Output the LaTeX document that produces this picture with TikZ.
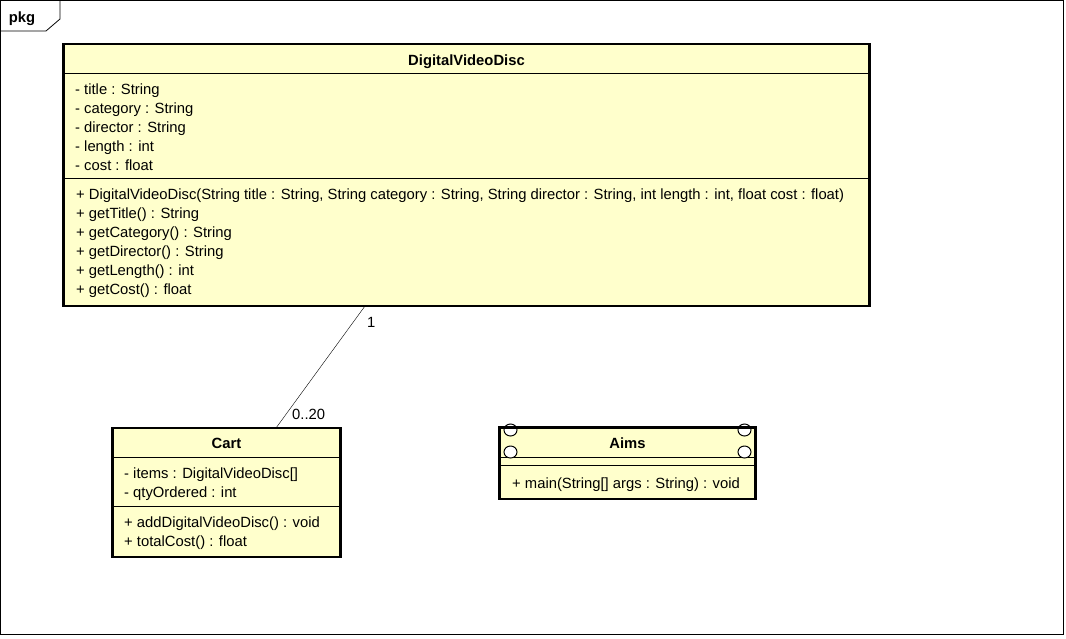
\documentclass[tikz,border=0pt]{standalone}
\usepackage{fontspec}
\setmainfont{Liberation Sans}
\usepackage{xcolor}
\definecolor{umlfill}{RGB}{255,255,204}
\tikzset{
  classbox/.style={draw, line width=2.6pt, fill=umlfill, inner sep=0pt},
  member/.style={anchor=base west, inner sep=0pt, yshift=-5pt, font=\fontsize{14.8}{17}\selectfont},
  classname/.style={anchor=base, inner sep=0pt, yshift=-5pt, font=\fontsize{14.8}{17}\selectfont\bfseries},
  mult/.style={anchor=base west, inner sep=0pt, yshift=-5pt, font=\fontsize{14.8}{17}\selectfont},
  corner/.style={draw, line width=1pt, fill=white},
}
\begin{document}
\begin{tikzpicture}[x=1pt,y=-1pt]
			\useasboundingbox (0,0) rectangle (1066,638);
			% 外框和标签
			\draw[line width=0.8pt] (0.5,0.5) rectangle (1063.5,634.5);
			\draw[line width=0.8pt] (0.5,31) -- (46,31) -- (60,19) -- (60,0.5);
			\node[classname] (pkg) at (22,17) {pkg};
			% DigitalVideoDisc 类
			\node[classbox, minimum width=806pt, minimum height=262pt] (dvd) at (466.5,175) {};
			\draw (63.5,73) -- (869.5,73);
			\draw (63.5,178) -- (869.5,178);
			\node[classname] (dvdname) at (466.5,60) {DigitalVideoDisc};
			\node[member] (dvd1) at (75,89) {- title : String};
			\node[member] (dvd2) at (75,108) {- category : String};
			\node[member] (dvd3) at (75,127) {- director : String};
			\node[member] (dvd4) at (75,146) {- length : int};
			\node[member] (dvd5) at (75,165) {- cost : float};
			\node[member] (dvd6) at (76,194) {+ DigitalVideoDisc(String title : String, String category : String, String director : String, int length : int, float cost : float)};
			\node[member] (dvd7) at (76,213) {+ getTitle() : String};
			\node[member] (dvd8) at (76,232) {+ getCategory() : String};
			\node[member] (dvd9) at (76,251) {+ getDirector() : String};
			\node[member] (dvd10) at (76,270) {+ getLength() : int};
			\node[member] (dvd11) at (76,289) {+ getCost() : float};
			% Cart 类
			\node[classbox, minimum width=228pt, minimum height=129pt] (cart) at (226.5,492.5) {};
			\draw (112.5,457) -- (340.5,457);
			\draw (112.5,506) -- (340.5,506);
			\node[classname] (cartname) at (226.5,443) {Cart};
			\node[member] (cart1) at (124,473) {- items : DigitalVideoDisc[]};
			\node[member] (cart2) at (124,492) {- qtyOrdered : int};
			\node[member] (cart3) at (124,522) {+ addDigitalVideoDisc() : void};
			\node[member] (cart4) at (124,541) {+ totalCost() : float};
			% Aims 类
			\node[classbox, minimum width=256pt, minimum height=72pt] (aims) at (627.5,463) {};
			\draw (499.5,457) -- (755.5,457);
			\draw (499.5,465) -- (755.5,465);
			\draw[corner] (510.5,430) ellipse (6.5pt and 6pt);
			\draw[corner] (510.5,452) ellipse (6.5pt and 6pt);
			\draw[corner] (744.5,430) ellipse (6.5pt and 6pt);
			\draw[corner] (744.5,452) ellipse (6.5pt and 6pt);
			\draw[line width=2.6pt] (499.5,427.3) -- (755.5,427.3);
			\node[classname] (aimsname) at (627.5,443) {Aims};
			\node[member] (aims1) at (512,483) {+ main(String[] args : String) : void};
			% 关联
			\coordinate (dvdend) at (365,306);
			\coordinate (cartend) at (276,428);
			\draw (dvdend) -- (cartend);
			\node[mult] (m1) at (367,322) {1};
			\node[mult] (m2) at (292,414) {0..20};
		\end{tikzpicture}
\end{document}
